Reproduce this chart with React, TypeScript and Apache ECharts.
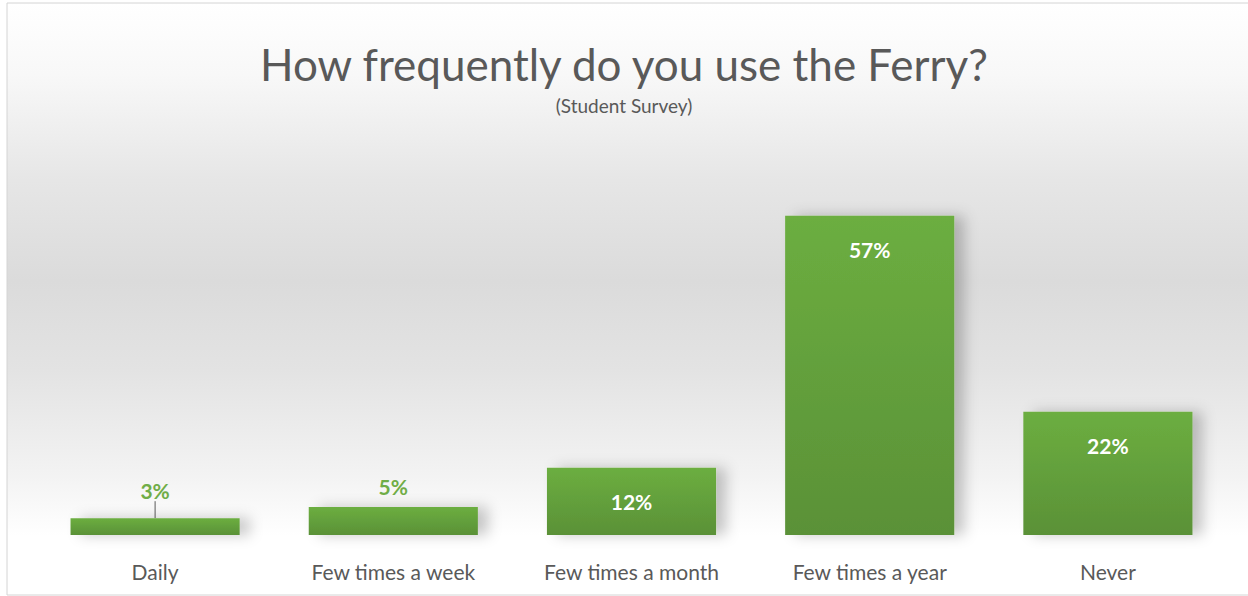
import React, { useEffect, useRef } from "react";
import * as echarts from "echarts";

const categories = ["Daily", "Few times a week", "Few times a month", "Few times a year", "Never"];
const values = [3, 5, 12, 57, 22];
const outsideLabel = [true, true, false, false, false];
const titleText = "How frequently do you use the Ferry?";
const subtitleText = "(Student Survey)";

const FONT = "Lato, 'Open Sans', sans-serif";

export default function App() {
  const ref = useRef<HTMLDivElement>(null);
  useEffect(() => {
    document.body.style.margin = "0";
    const chart = echarts.init(ref.current!, null, { renderer: "svg" });
    const barColor = new echarts.graphic.LinearGradient(0, 0, 0, 1, [
      { offset: 0, color: "#6cae40" },
      { offset: 1, color: "#5a9137" },
    ]);
    chart.setOption({
      animation: false,
      backgroundColor: "#ffffff",
      graphic: [
        {
          type: "rect",
          z: -10,
          silent: true,
          shape: { x: 7, y: 3, width: 1245, height: 592 },
          style: {
            fill: new echarts.graphic.LinearGradient(0, 0, 0, 1, [
              { offset: 0, color: "#ffffff" },
              { offset: 0.12, color: "#f8f8f8" },
              { offset: 0.3, color: "#e6e6e6" },
              { offset: 0.47, color: "#dbdbdb" },
              { offset: 0.62, color: "#e3e3e3" },
              { offset: 0.8, color: "#f3f3f3" },
              { offset: 0.9, color: "#ffffff" },
              { offset: 1, color: "#ffffff" },
            ]),
            stroke: "#d4d4d4",
            lineWidth: 1,
          },
        },
      ],
      title: [
        {
          text: titleText,
          left: "center",
          top: 37,
          textStyle: { fontFamily: FONT, fontSize: 44, fontWeight: "normal", color: "#595959" },
        },
        {
          text: subtitleText,
          left: "center",
          top: 91,
          textStyle: { fontFamily: FONT, fontSize: 19, fontWeight: "normal", color: "#595959" },
        },
      ],
      grid: { left: 36, right: 21, top: 199, bottom: 61 },
      xAxis: {
        type: "category",
        data: categories,
        axisLine: { show: false },
        axisTick: { show: false },
        axisLabel: { color: "#595959", fontFamily: FONT, fontSize: 21, margin: 26 },
      },
      yAxis: { type: "value", min: 0, max: 60, show: false, splitLine: { show: false } },
      series: [
        {
          type: "bar",
          barWidth: "71%",
          data: values.map((v, i) => ({
            value: v,
            label: outsideLabel[i]
              ? { position: "top", distance: i === 0 ? 4 : 10, color: "#70ad47" }
              : { position: "insideTop", distance: 23, color: "#ffffff" },
            labelLine: { show: i === 0 },
          })),
          itemStyle: {
            color: barColor,
            shadowColor: "rgba(0,0,0,0.22)",
            shadowBlur: 14,
            shadowOffsetX: 10,
            shadowOffsetY: 0,
          },
          label: {
            show: true,
            formatter: "{c}%",
            fontFamily: FONT,
            fontSize: 21,
            fontWeight: "bold",
          },
          labelLayout: (params: any) => (params.dataIndex === 0 ? { dy: -13 } : {}),
          labelLine: { show: false, lineStyle: { color: "#595959", width: 1 } },
        },
      ],
    });
    return () => chart.dispose();
  }, []);
  return <div ref={ref} style={{ width: 1248, height: 596, position: "absolute", left: 0, top: 0 }} />;
}
